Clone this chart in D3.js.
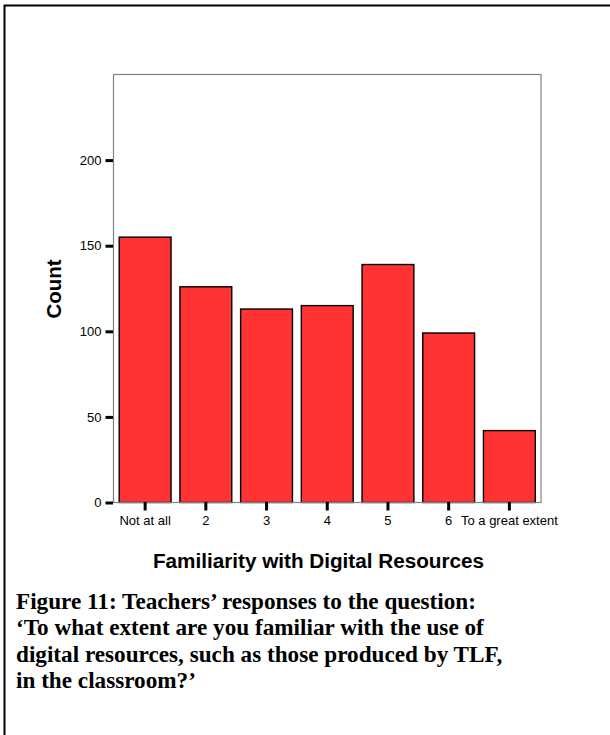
<!DOCTYPE html>
<html><head><meta charset="utf-8">
<script src="https://cdn.jsdelivr.net/npm/d3@7"></script>
<style>html,body{margin:0;padding:0;background:#fff;}svg{display:block;}</style>
</head><body>
<script>
const categories = ["Not at all", "2", "3", "4", "5", "6", "To a great extent"];
const counts = [155, 126, 113, 115, 139, 99, 42];
const yTicks = [0, 50, 100, 150, 200];
const yTitle = "Count";
const xTitle = "Familiarity with Digital Resources";
const captionLines = [
  "Figure 11: Teachers\u2019 responses to the question:",
  "\u2018To what extent are you familiar with the use of",
  "digital resources, such as those produced by TLF,",
  "in the classroom?\u2019"
];

const W = 610, H = 735;
const svg = d3.select("body").append("svg").attr("width", W).attr("height", H);

// outer frame (left and top visible)
svg.append("path").attr("d", "M4.5,740 V5.5 H620").attr("fill", "none")
  .attr("stroke", "#000").attr("stroke-width", 2);

const plot = {l: 113.5, t: 74.5, r: 541, b: 502.5};
const x = d3.scaleBand().domain(categories).range([plot.l, plot.r])
  .paddingInner(0.146).paddingOuter(0.094);
const y = d3.scaleLinear().domain([0, 250]).range([plot.b, plot.t]);

// bars
svg.append("g").selectAll("rect").data(counts).join("rect")
  .attr("x", (d, i) => x(categories[i]))
  .attr("y", d => y(d))
  .attr("width", x.bandwidth())
  .attr("height", d => y(0) - y(d))
  .attr("fill", "#ff3333").attr("stroke", "#000").attr("stroke-width", 1.4);

// plot frame
svg.append("rect").attr("x", plot.l).attr("y", plot.t)
  .attr("width", plot.r - plot.l).attr("height", plot.b - plot.t)
  .attr("fill", "none").attr("stroke", "#808080").attr("stroke-width", 1.2);

// y axis
const yAxis = d3.axisLeft(y).tickValues(yTicks).tickSize(7.5).tickPadding(4);
const gy = svg.append("g").attr("transform", `translate(${plot.l - 0.5},0)`).call(yAxis);
gy.select(".domain").remove();
gy.selectAll(".tick line").attr("stroke", "#000").attr("stroke-width", 3);
gy.selectAll(".tick text").attr("font-family", "'Liberation Sans', Arial, sans-serif")
  .attr("font-size", 13).attr("fill", "#000");

// x axis
const xAxis = d3.axisBottom(x).tickSize(8.5).tickPadding(5);
const gx = svg.append("g").attr("transform", `translate(0,${plot.b - 0.5})`).call(xAxis);
gx.select(".domain").remove();
gx.selectAll(".tick line").attr("stroke", "#000").attr("stroke-width", 3);
gx.selectAll(".tick text").attr("font-family", "'Liberation Sans', Arial, sans-serif")
  .attr("font-size", 13).attr("fill", "#000");

// axis titles
svg.append("text").attr("transform", `translate(61,289) rotate(-90)`)
  .attr("text-anchor", "middle")
  .attr("font-family", "'Liberation Sans', Arial, sans-serif")
  .attr("font-weight", "bold").attr("font-size", 20.5).text(yTitle);

svg.append("text").attr("x", 318.5).attr("y", 568)
  .attr("text-anchor", "middle")
  .attr("font-family", "'Liberation Sans', Arial, sans-serif")
  .attr("font-weight", "bold").attr("font-size", 20.7).text(xTitle);

// caption
svg.append("g").selectAll("text").data(captionLines).join("text")
  .attr("x", 16).attr("y", (d, i) => 609 + i * 26.4)
  .attr("font-family", "'Liberation Serif', 'Times New Roman', serif")
  .attr("font-weight", "bold").attr("font-size", 23.2).text(d => d);
</script>
</body></html>
